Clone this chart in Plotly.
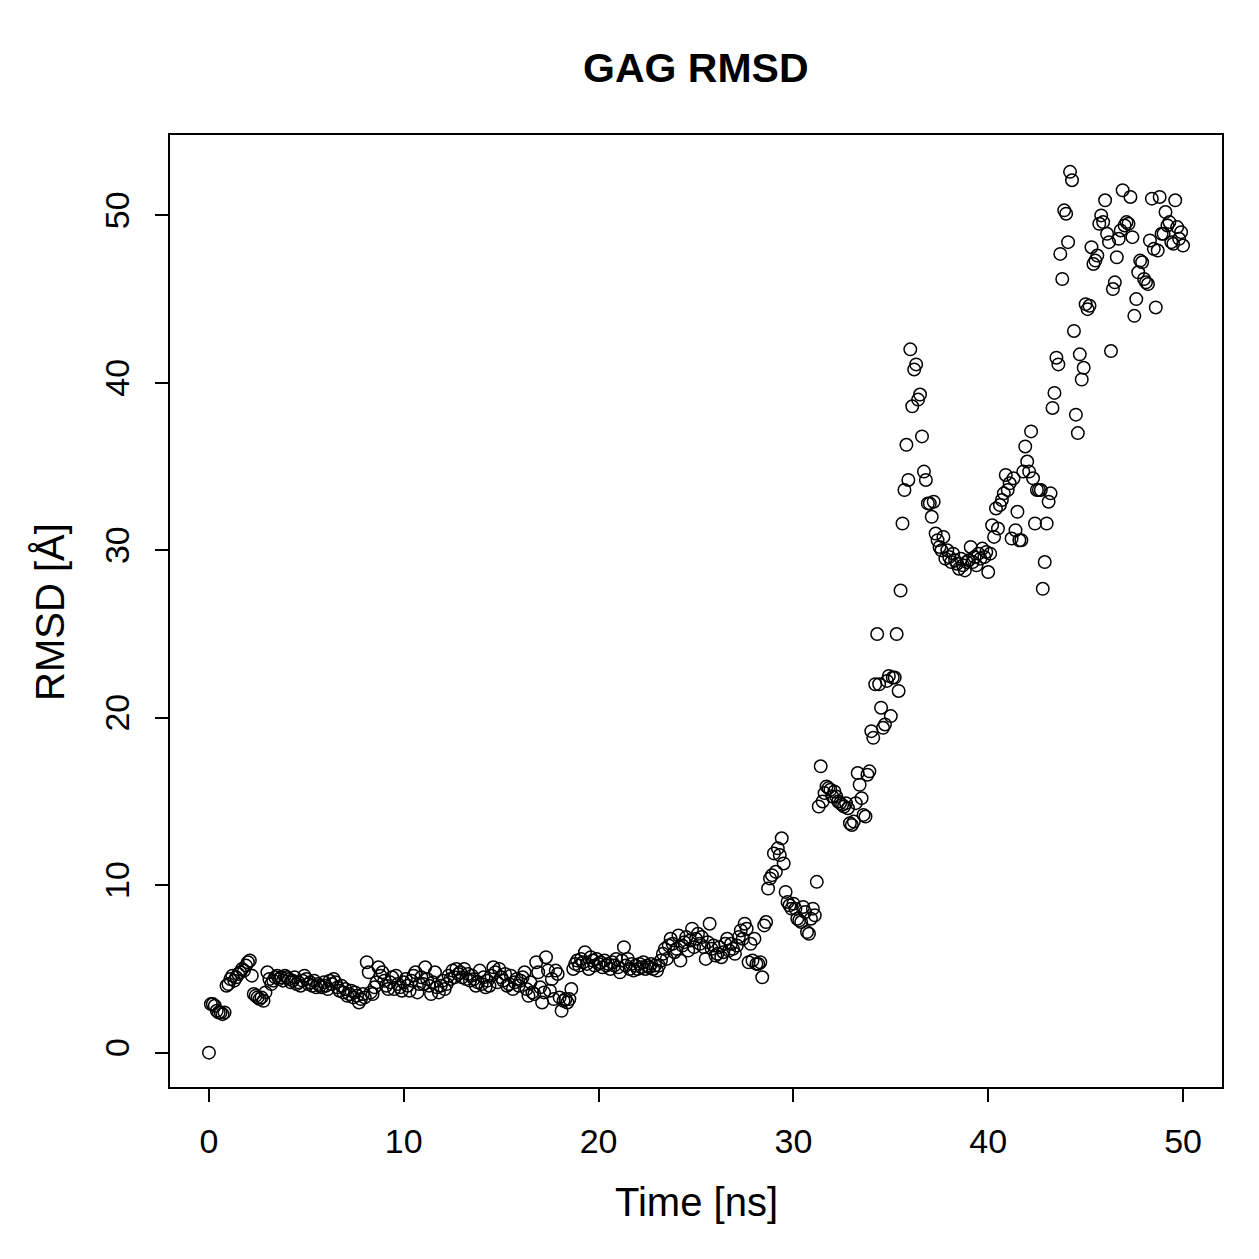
import plotly.graph_objects as go

# RMSD values sampled every 0.1 ns (rows = 1 ns)
rmsd_00 = [0.0, 2.9, 2.9, 2.8, 2.5, 2.4, 2.4, 2.3, 2.4, 4.0]
rmsd_01 = [4.1, 4.4, 4.6, 4.3, 4.5, 4.7, 4.8, 5.0, 4.9, 5.2]
rmsd_02 = [5.4, 5.5, 4.6, 3.5, 3.4, 3.3, 3.2, 3.3, 3.1, 3.6]
rmsd_03 = [4.8, 4.4, 4.1, 4.3, 4.5, 4.6, 4.4, 4.5, 4.3, 4.6]
rmsd_04 = [4.5, 4.4, 4.2, 4.3, 4.5, 4.1, 4.2, 4.0, 4.3, 4.6]
rmsd_05 = [4.4, 4.1, 4.2, 4.0, 4.3, 3.9, 4.1, 4.0, 3.9, 4.2]
rmsd_06 = [4.0, 3.8, 4.3, 4.1, 4.4, 4.2, 3.9, 3.7, 4.0, 3.6]
rmsd_07 = [3.8, 3.4, 3.5, 3.7, 3.3, 3.6, 3.4, 3.0, 3.2, 3.5]
rmsd_08 = [3.3, 5.4, 4.8, 3.6, 3.5, 3.9, 4.2, 5.1, 4.6, 4.8]
rmsd_09 = [4.3, 4.0, 3.8, 4.2, 4.5, 3.8, 4.6, 4.1, 3.9, 3.7]
rmsd_10 = [4.2, 4.4, 4.0, 3.7, 4.3, 4.6, 4.8, 3.6, 4.1, 4.5]
rmsd_11 = [4.1, 5.1, 4.4, 4.0, 3.5, 4.2, 4.8, 3.9, 3.6, 4.0]
rmsd_12 = [4.3, 3.8, 4.1, 4.6, 4.4, 4.9, 4.5, 5.0, 4.7, 4.8]
rmsd_13 = [4.5, 5.0, 4.4, 4.7, 4.3, 4.6, 4.4, 4.0, 4.2, 4.9]
rmsd_14 = [4.1, 4.5, 3.9, 4.3, 4.0, 4.6, 5.1, 4.8, 4.2, 5.0]
rmsd_15 = [4.5, 4.3, 4.7, 4.0, 4.1, 4.6, 3.8, 4.2, 4.4, 4.0]
rmsd_16 = [4.3, 4.5, 4.8, 3.8, 3.4, 4.2, 3.6, 3.5, 5.4, 4.8]
rmsd_17 = [3.9, 3.0, 3.6, 5.7, 4.9, 3.7, 4.4, 3.2, 4.9, 4.7]
rmsd_18 = [3.3, 2.5, 3.1, 3.2, 3.0, 3.2, 3.8, 5.0, 5.3, 5.5]
rmsd_19 = [5.2, 5.6, 5.4, 6.0, 5.3, 5.0, 5.7, 5.5, 5.2, 5.6]
rmsd_20 = [5.3, 5.4, 5.1, 5.5, 5.2, 5.3, 5.0, 5.4, 5.2, 5.6]
rmsd_21 = [5.1, 4.8, 5.5, 6.3, 5.2, 5.6, 5.0, 5.3, 4.9, 5.2]
rmsd_22 = [5.0, 5.3, 5.1, 5.4, 5.0, 5.2, 5.1, 5.3, 5.0, 5.2]
rmsd_23 = [4.9, 5.2, 5.5, 5.9, 6.2, 5.6, 6.4, 6.8, 6.5, 6.0]
rmsd_24 = [6.2, 7.0, 5.5, 6.4, 6.6, 6.9, 6.1, 6.7, 7.4, 6.3]
rmsd_25 = [6.8, 7.1, 6.5, 6.9, 6.3, 5.6, 6.6, 7.7, 6.2, 6.4]
rmsd_26 = [5.8, 5.9, 6.3, 5.7, 6.0, 6.5, 6.8, 6.1, 6.5, 6.2]
rmsd_27 = [5.9, 6.4, 6.9, 7.3, 6.8, 7.7, 7.4, 5.4, 6.5, 5.5]
rmsd_28 = [6.8, 5.3, 5.3, 5.4, 4.5, 7.6, 7.8, 9.8, 10.4, 10.6]
rmsd_29 = [11.9, 10.8, 12.2, 11.8, 12.8, 11.3, 9.6, 9.0, 8.8, 8.6]
rmsd_30 = [8.9, 8.6, 8.0, 7.9, 7.8, 8.7, 8.4, 7.2, 7.1, 8.0]
rmsd_31 = [8.6, 8.2, 10.2, 14.7, 17.1, 15.0, 15.5, 15.9, 15.8, 15.7]
rmsd_32 = [15.3, 15.6, 15.3, 15.0, 14.9, 14.8, 14.7, 14.9, 14.6, 13.7]
rmsd_33 = [13.6, 13.8, 14.9, 16.7, 16.0, 15.2, 14.2, 14.1, 16.6, 16.8]
rmsd_34 = [19.2, 18.8, 22.0, 25.0, 22.0, 20.6, 19.4, 19.6, 22.2, 22.5]
rmsd_35 = [20.1, 22.4, 22.4, 25.0, 21.6, 27.6, 31.6, 33.6, 36.3, 34.2]
rmsd_36 = [42.0, 38.6, 40.8, 41.1, 39.0, 39.3, 36.8, 34.7, 34.2, 32.8]
rmsd_37 = [32.8, 32.0, 32.9, 31.0, 30.6, 30.2, 30.0, 30.8, 29.5, 30.0]
rmsd_38 = [29.6, 29.3, 29.8, 29.4, 29.2, 28.9, 29.5, 29.1, 28.8, 29.3]
rmsd_39 = [29.4, 30.2, 29.3, 29.6, 29.1, 29.8, 29.5, 30.1, 29.6, 29.9]
rmsd_40 = [28.7, 29.8, 31.5, 30.8, 32.5, 31.3, 32.7, 33.0, 33.4, 34.5]
rmsd_41 = [33.6, 34.0, 30.7, 34.3, 31.2, 32.3, 30.6, 30.6, 34.7, 36.2]
rmsd_42 = [35.3, 34.7, 37.1, 34.3, 31.6, 33.6, 33.6, 33.6, 27.7, 29.3]
rmsd_43 = [31.6, 32.9, 33.4, 38.5, 39.4, 41.5, 41.1, 47.7, 46.2, 50.3]
rmsd_44 = [50.1, 48.4, 52.6, 52.1, 43.1, 38.1, 37.0, 41.7, 40.2, 40.9]
rmsd_45 = [44.7, 44.4, 44.6, 48.1, 47.1, 47.3, 47.6, 49.5, 50.0, 49.6]
rmsd_46 = [50.9, 48.9, 48.4, 41.9, 45.6, 46.0, 47.5, 48.6, 49.1, 51.5]
rmsd_47 = [49.4, 49.6, 49.5, 51.1, 48.7, 44.0, 45.0, 46.6, 47.3, 47.2]
rmsd_48 = [46.2, 46.0, 45.9, 48.5, 51.0, 48.0, 44.5, 47.9, 51.1, 48.9]
rmsd_49 = [48.9, 50.2, 49.4, 49.6, 48.4, 48.3, 50.9, 49.3, 48.6, 49.0]
rmsd_50 = [48.2]

rmsd = (rmsd_00 + rmsd_01 + rmsd_02 + rmsd_03 + rmsd_04 + rmsd_05 + rmsd_06 + rmsd_07
        + rmsd_08 + rmsd_09 + rmsd_10 + rmsd_11 + rmsd_12 + rmsd_13 + rmsd_14 + rmsd_15
        + rmsd_16 + rmsd_17 + rmsd_18 + rmsd_19 + rmsd_20 + rmsd_21 + rmsd_22 + rmsd_23
        + rmsd_24 + rmsd_25 + rmsd_26 + rmsd_27 + rmsd_28 + rmsd_29 + rmsd_30 + rmsd_31
        + rmsd_32 + rmsd_33 + rmsd_34 + rmsd_35 + rmsd_36 + rmsd_37 + rmsd_38 + rmsd_39
        + rmsd_40 + rmsd_41 + rmsd_42 + rmsd_43 + rmsd_44 + rmsd_45 + rmsd_46 + rmsd_47
        + rmsd_48 + rmsd_49 + rmsd_50)
time_step = 0.1
time_ns = [round(i * time_step, 1) for i in range(len(rmsd))]

x_ticks = [0, 10, 20, 30, 40, 50]
y_ticks = [0, 10, 20, 30, 40, 50]

title_text = "GAG RMSD"
x_title = "Time [ns]"
y_title = "RMSD [Å]"

FONT = "Liberation Sans, Arial, Helvetica, sans-serif"

fig = go.Figure()
fig.add_trace(go.Scatter(
    x=time_ns, y=rmsd, mode="markers",
    marker=dict(symbol="circle-open", size=12.5, color="black", line=dict(width=1.5, color="black")),
    showlegend=False, hoverinfo="x+y",
))

axis_common = dict(
    showgrid=False, zeroline=False, showline=True, linecolor="black", linewidth=2,
    mirror=True, ticks="outside", ticklen=13, tickwidth=2, tickcolor="black",
    tickfont=dict(family=FONT, size=34, color="black"),
)

fig.update_layout(
    width=1259, height=1259,
    margin=dict(l=170, r=37, t=135, b=172, pad=0),
    paper_bgcolor="white", plot_bgcolor="white",
    font=dict(family=FONT, color="black"),
    xaxis=dict(range=[-2, 52], tickvals=x_ticks, ticktext=[str(v) for v in x_ticks],
               ticklabelstandoff=10, **axis_common),
    yaxis=dict(range=[-2.05, 54.8], tickvals=y_ticks, ticktext=[str(v) for v in y_ticks],
               tickangle=-90, ticklabelstandoff=12, **axis_common),
    annotations=[
        dict(text="<b>" + title_text + "</b>", xref="paper", yref="paper",
             x=0.5, y=(1087 - 68) / 952, xanchor="center", yanchor="middle",
             showarrow=False, font=dict(family=FONT, size=41, color="black")),
        dict(text=x_title, xref="paper", yref="paper",
             x=0.5, y=(1087 - 1202) / 952, xanchor="center", yanchor="middle",
             showarrow=False, font=dict(family=FONT, size=40, color="black")),
        dict(text=y_title, xref="paper", yref="paper", textangle=-90,
             x=(50 - 170) / 1052, y=(1087 - 612) / 952, xanchor="center", yanchor="middle",
             showarrow=False, font=dict(family=FONT, size=40, color="black")),
    ],
)

fig.write_html("out.html")
